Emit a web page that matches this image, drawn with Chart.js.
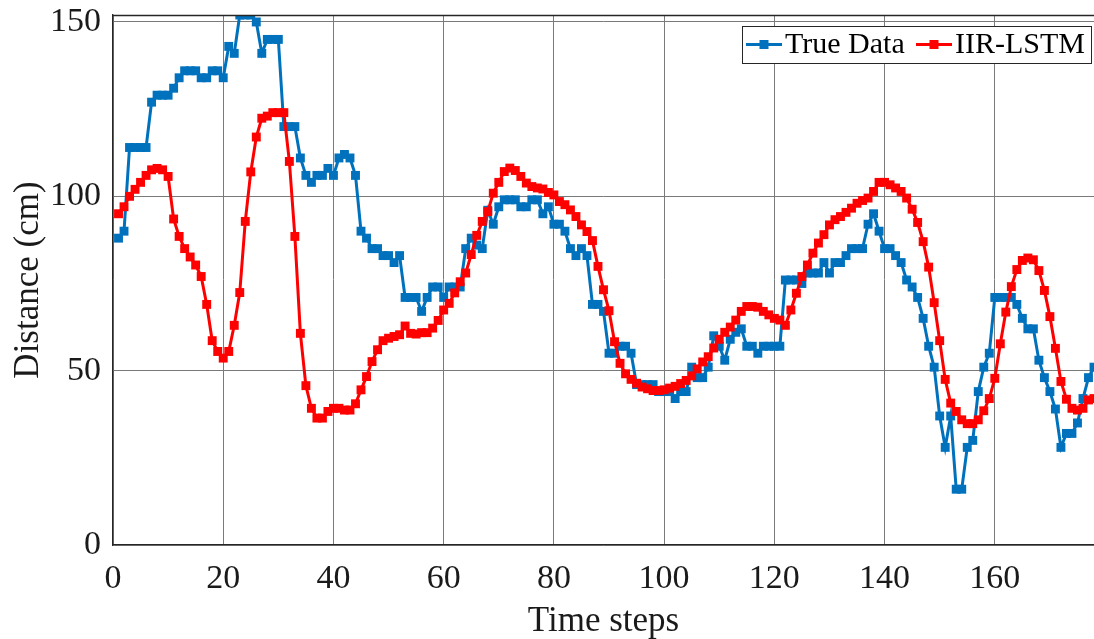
<!DOCTYPE html>
<html>
<head>
<meta charset="utf-8">
<script src="https://cdn.jsdelivr.net/npm/chart.js@4.4.1/dist/chart.umd.min.js"></script>
<style>
  html, body { margin: 0; padding: 0; background: #ffffff; }
  #wrap { width: 1094px; height: 639px; position: relative; }
</style>
</head>
<body>
<div id="wrap"><canvas id="c" width="1094" height="639"></canvas></div>
<script>
// ---- data ----
const seriesNames = ["True Data", "IIR-LSTM"];
const firstStep = 1;
const xTickValues = [0, 20, 40, 60, 80, 100, 120, 140, 160];
const yTickValues = [0, 50, 100, 150];

const trueData = [
  88, 90, 114, 114, 114, 114, 127, 129, 129, 129,
  131, 134, 136, 136, 136, 134, 134, 136, 136, 134,
  143, 141, 152, 152, 152, 150, 141, 145, 145, 145,
  120, 120, 120, 111, 106, 104, 106, 106, 108, 106,
  111, 112, 111, 106, 90, 88, 85, 85, 83, 83,
  81, 83, 71, 71, 71, 67, 71, 74, 74, 71,
  74, 74, 74, 85, 88, 86, 85, 96, 92, 97,
  99, 99, 99, 97, 97, 99, 99, 95, 97, 92,
  92, 90, 85, 83, 85, 83, 69, 69, 67, 55,
  55, 57, 57, 55, 46, 46, 46, 46, 44, 44,
  44, 42, 44, 44, 51, 48, 48, 51, 60, 57,
  53, 59, 61, 62, 57, 57, 55, 57, 57, 57,
  57, 76, 76, 76, 75, 78, 78, 78, 81, 78,
  81, 81, 83, 85, 85, 85, 92, 95, 90, 85,
  85, 83, 81, 76, 74, 71, 65, 57, 51, 37,
  28, 37, 16, 16, 28, 30, 44, 51, 55, 71,
  71, 71, 71, 69, 65, 62, 62, 53, 48, 44,
  39, 28, 32, 32, 35, 42, 48, 51
];

const iirLstm = [
  95, 97, 100, 102, 104, 106, 107.6, 108, 107.6, 105.7,
  93.5, 88.5, 85, 82.6, 80.3, 77, 69, 58.6, 55.5, 53.6,
  55.5, 63, 72.4, 92.8, 107, 117, 122.4, 123, 124, 124,
  124, 110, 88.5, 60.7, 45.7, 39.2, 36.4, 36.4, 38.3, 39.2,
  39.2, 38.7, 38.7, 40.5, 44.5, 48.3, 52.6, 56, 58.6, 59.3,
  59.8, 60.3, 62.8, 60.7, 60.5, 60.9, 60.9, 62.2, 64.4, 67.4,
  69.3, 72.3, 75.5, 78, 83.3, 88.8, 92.8, 95.6, 100.9, 104,
  107.1, 108.1, 107.4, 105.7, 103.8, 102.8, 102.4, 102.1, 101.1, 100.4,
  98.5, 97.6, 96.1, 94.2, 91.8, 89.9, 87.3, 79.9, 73.2, 67.2,
  58.3, 52.1, 49.1, 47.5, 46.4, 45.3, 44.8, 44.3, 44.3, 44.5,
  45, 45.5, 46.3, 47.2, 48.5, 50.5, 52.5, 54, 56.5, 59,
  61, 62.5, 64.5, 67, 68.4, 68.4, 68.2, 67, 66, 65,
  64.5, 63, 67.4, 72.2, 77, 80.3, 83.7, 86.6, 89, 91.8,
  93.3, 94.2, 95.4, 96.6, 98, 98.8, 99.5, 101.4, 104, 104,
  103.3, 102.4, 101.4, 99.5, 96.3, 92.5, 87, 79.7, 69.5, 58.6,
  47.5, 40.7, 38.3, 35.9, 34.8, 34.8, 35.9, 38.5, 42, 47.8,
  57.7, 66.8, 74.1, 79, 81.6, 82.3, 81.8, 78.7, 73, 65.5,
  56.4, 46.9, 41.8, 39.2, 38.7, 39.2, 41.6, 42
];

// ---- build chart ----
const toXY = arr => arr.map((v, i) => ({ x: firstStep + i, y: v }));
const FONT = "'Liberation Serif', 'Times New Roman', serif";
const BLUE = "#0072BD";
const RED = "#FF0000";

const frameAndLegend = {
  id: 'frameAndLegend',
  afterDraw(chart) {
    const ctx = chart.ctx;
    const a = chart.chartArea;
    ctx.save();
    // top frame line
    ctx.strokeStyle = '#262626';
    ctx.lineWidth = 1.3;
    ctx.beginPath();
    ctx.moveTo(a.left, a.top + 0.5);
    ctx.lineTo(a.right, a.top + 0.5);
    ctx.stroke();
    // legend box
    const bx = 742, by = 26, bw = 349, bh = 37;
    ctx.fillStyle = '#ffffff';
    ctx.fillRect(bx, by, bw, bh);
    ctx.strokeStyle = '#262626';
    ctx.lineWidth = 1;
    ctx.strokeRect(bx + 0.5, by + 0.5, bw, bh);
    const items = [
      { x0: 746, x1: 782, tx: 785 },
      { x0: 916, x1: 952, tx: 955 }
    ];
    const yMid = by + bh / 2;
    ctx.font = "30px " + FONT;
    ctx.textBaseline = 'middle';
    ctx.textAlign = 'left';
    chart.data.datasets.forEach((ds, i) => {
      const it = items[i];
      ctx.strokeStyle = ds.borderColor;
      ctx.lineWidth = 3;
      ctx.beginPath();
      ctx.moveTo(it.x0, yMid);
      ctx.lineTo(it.x1, yMid);
      ctx.stroke();
      ctx.fillStyle = ds.borderColor;
      const s = 9;
      const cx = (it.x0 + it.x1) / 2;
      ctx.fillRect(cx - s / 2, yMid - s / 2, s, s);
      ctx.fillStyle = '#000000';
      ctx.fillText(ds.label, it.tx, yMid + 1);
    });
    ctx.restore();
  }
};

new Chart(document.getElementById('c'), {
  type: 'line',
  data: {
    datasets: [
      {
        label: seriesNames[0],
        data: toXY(trueData),
        borderColor: BLUE,
        backgroundColor: BLUE,
        borderWidth: 3,
        pointStyle: 'rect',
        pointRadius: 6.3,
        pointBorderWidth: 0,
        tension: 0,
        order: 2
      },
      {
        label: seriesNames[1],
        data: toXY(iirLstm),
        borderColor: RED,
        backgroundColor: RED,
        borderWidth: 3,
        pointStyle: 'rect',
        pointRadius: 6.3,
        pointBorderWidth: 0,
        tension: 0,
        order: 1
      }
    ]
  },
  options: {
    responsive: false,
    animation: false,
    devicePixelRatio: 1,
    layout: { autoPadding: false, padding: { top: 15, right: 0, left: 0, bottom: 0 } },
    plugins: { legend: { display: false }, tooltip: { enabled: false } },
    scales: {
      x: {
        type: 'linear',
        min: 0,
        max: 178,
        afterBuildTicks(scale) { scale.ticks = xTickValues.map(v => ({ value: v })); },
        afterFit(scale) { scale.height = 94; scale.paddingLeft = 0; scale.paddingRight = 0; },
        ticks: { font: { family: FONT, size: 34 }, color: '#1a1a1a', padding: 14, maxRotation: 0, autoSkip: false },
        grid: { color: '#7a7a7a', lineWidth: 1, drawTicks: false },
        border: { color: '#262626', width: 1.3 },
        title: { display: true, text: 'Time steps', font: { family: FONT, size: 35 }, color: '#1a1a1a', padding: { top: 0, bottom: -4 } }
      },
      y: {
        min: 0,
        max: 152,
        afterBuildTicks(scale) { scale.ticks = yTickValues.map(v => ({ value: v })); },
        afterFit(scale) { scale.width = 113; scale.paddingTop = 0; scale.paddingBottom = 0; },
        ticks: { font: { family: FONT, size: 34 }, color: '#1a1a1a', padding: 12 },
        grid: { color: '#7a7a7a', lineWidth: 1, drawTicks: false },
        border: { color: '#262626', width: 1.3 },
        title: { display: true, text: 'Distance (cm)', font: { family: FONT, size: 35 }, color: '#1a1a1a', padding: { top: 8, bottom: 0 } }
      }
    }
  },
  plugins: [frameAndLegend]
});
</script>
</body>
</html>
